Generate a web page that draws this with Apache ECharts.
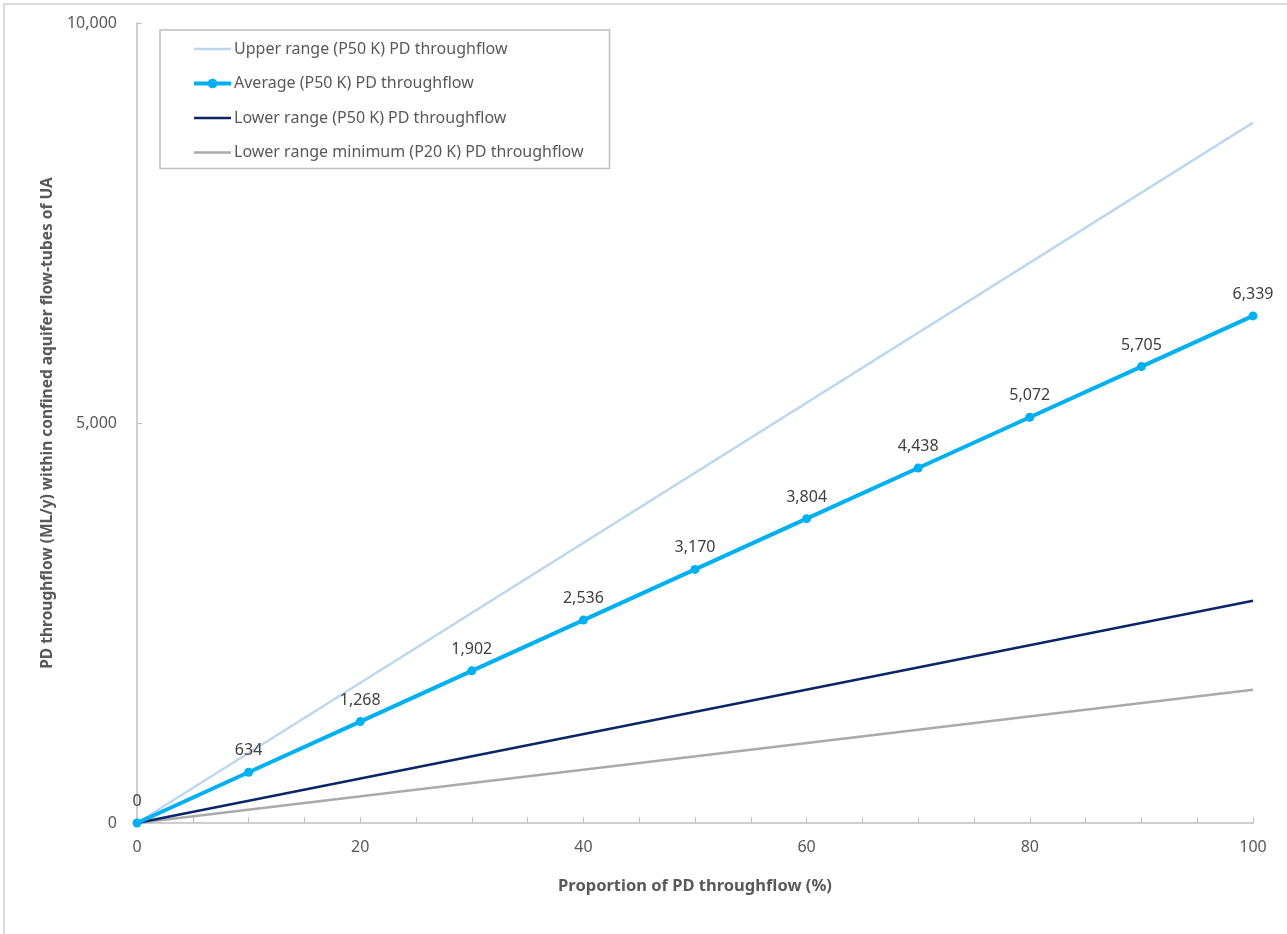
<!DOCTYPE html>
<html>
<head>
<meta charset="utf-8">
<script src="https://cdn.jsdelivr.net/npm/echarts@6/dist/echarts.min.js"></script>
<style>
html,body{margin:0;padding:0;background:#fff;overflow:hidden;}
#frame{position:absolute;left:3px;top:3px;width:1300px;height:950px;border-left:2px solid #d9d9d9;border-top:2px solid #d9d9d9;}
#chart{position:absolute;left:0;top:0;width:1287px;height:934px;}
</style>
</head>
<body>
<div id="frame"></div>
<div id="chart"></div>
<script>
const xValues = [0, 10, 20, 30, 40, 50, 60, 70, 80, 90, 100];
const averageValues = [0, 634, 1268, 1902, 2536, 3170, 3804, 4438, 5072, 5705, 6339];
const rangeX = [0, 100];
const upperValues = [0, 8755];
const lowerValues = [0, 2778];
const lowerMinValues = [0, 1665];
const seriesNames = [
  'Upper range (P50 K) PD throughflow',
  'Average (P50 K) PD throughflow',
  'Lower range (P50 K) PD throughflow',
  'Lower range minimum (P20 K) PD throughflow'
];
const xTitle = 'Proportion of PD throughflow (%)';
const yTitle = 'PD throughflow (ML/y) within confined aquifer flow-tubes of UA';

const FONT = '"Noto Sans", "Open Sans", sans-serif';
const pair = (xs, ys) => xs.map((x, i) => [x, ys[i]]);
const fmt = v => Math.round(v).toLocaleString('en-US');
const LINE_ICON = 'path://M0,0 M0,4.75 L37,4.75 L37,7.25 L0,7.25 Z M37,12';

const chart = echarts.init(document.getElementById('chart'), null, {renderer: 'canvas'});
chart.setOption({
  animation: false,
  textStyle: {fontFamily: FONT},
  grid: {left: 137, right: 34, top: 23, bottom: 111, containLabel: false},
  legend: {
    orient: 'vertical',
    left: 160, top: 30,
    padding: [11, 26, 8, 32],
    itemWidth: 37, itemHeight: 12, itemGap: 18.5,
    borderColor: '#bfbfbf', borderWidth: 1.5,
    backgroundColor: '#fff',
    textStyle: {fontFamily: FONT, fontSize: 16, color: '#595959', padding: [0, 0, 0, -2]},
    data: [
      {name: seriesNames[0], icon: LINE_ICON},
      {name: seriesNames[1], lineStyle: {width: 4}},
      {name: seriesNames[2], icon: LINE_ICON},
      {name: seriesNames[3], icon: LINE_ICON}
    ]
  },
  xAxis: {
    type: 'value', min: 0, max: 100, interval: 20,
    axisLine: {lineStyle: {color: '#bfbfbf', width: 1.5}},
    axisTick: {show: true, inside: true, length: 6, lineStyle: {color: '#bfbfbf'}},
    minorTick: {show: true, splitNumber: 4, length: 6, lineStyle: {color: '#bfbfbf'}},
    splitLine: {show: false},
    axisLabel: {color: '#595959', fontSize: 16, margin: 16, fontFamily: FONT},
    name: xTitle, nameLocation: 'middle', nameGap: 55,
    nameTextStyle: {color: '#595959', fontSize: 16.5, fontWeight: 'bold', fontFamily: FONT}
  },
  yAxis: {
    type: 'value', min: 0, max: 10000, interval: 5000,
    axisLine: {show: true, lineStyle: {color: '#bfbfbf', width: 1.5}},
    axisTick: {show: true, inside: true, length: 5, lineStyle: {color: '#bfbfbf'}},
    splitLine: {show: false},
    axisLabel: {color: '#595959', fontSize: 16, margin: 20, fontFamily: FONT, formatter: fmt},
    name: yTitle, nameLocation: 'middle', nameGap: 80,
    nameTextStyle: {color: '#595959', fontSize: 15.5, fontWeight: 'bold', fontFamily: FONT}
  },
  series: [
    {
      name: seriesNames[0], type: 'line', data: pair(rangeX, upperValues),
      symbol: 'none', lineStyle: {color: '#bdd7ee', width: 2.5}, itemStyle: {color: '#bdd7ee'}, z: 2
    },
    {
      name: seriesNames[1], type: 'line', data: pair(xValues, averageValues),
      symbol: 'circle', symbolSize: 9,
      lineStyle: {color: '#00b0f0', width: 4}, itemStyle: {color: '#00b0f0'},
      label: {show: true, position: 'top', distance: 9, color: '#404040', fontSize: 16, fontFamily: FONT,
        formatter: p => fmt(p.value[1])},
      z: 5
    },
    {
      name: seriesNames[2], type: 'line', data: pair(rangeX, lowerValues),
      symbol: 'none', lineStyle: {color: '#0b2565', width: 2.5}, itemStyle: {color: '#0b2565'}, z: 3
    },
    {
      name: seriesNames[3], type: 'line', data: pair(rangeX, lowerMinValues),
      symbol: 'none', lineStyle: {color: '#aaaaaa', width: 2.5}, itemStyle: {color: '#aaaaaa'}, z: 2
    }
  ]
});
</script>
</body>
</html>
